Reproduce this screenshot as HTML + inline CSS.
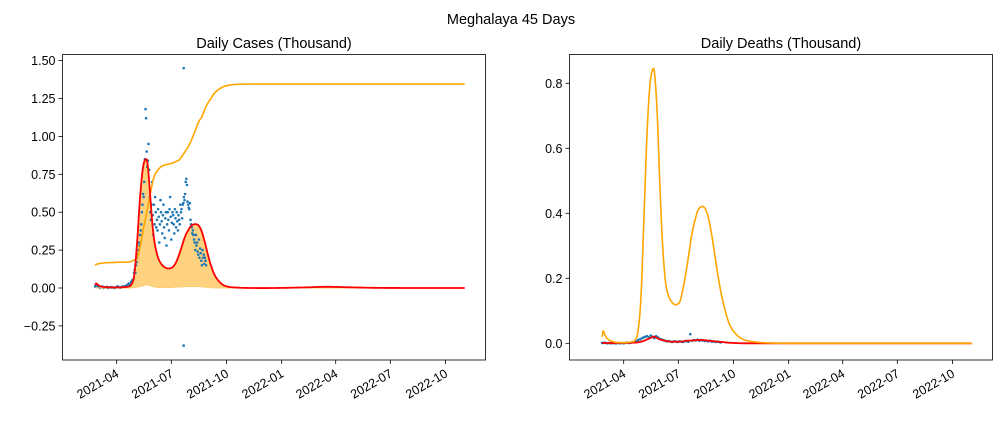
<!DOCTYPE html>
<html><head><meta charset="utf-8"><style>
body{margin:0;background:#fff;}
svg{display:block;font-family:"Liberation Sans","DejaVu Sans",sans-serif;}
</style></head><body>
<svg id="c" width="1001" height="421" viewBox="0 0 1001 421" xmlns="http://www.w3.org/2000/svg">
<rect width="1001" height="421" fill="#fff"/>
<text x="511" y="24" text-anchor="middle" font-size="14.5">Meghalaya 45 Days</text>
<text x="274" y="48" text-anchor="middle" font-size="14.5">Daily Cases (Thousand)</text>
<text x="781" y="48" text-anchor="middle" font-size="14.5">Daily Deaths (Thousand)</text>
</svg>
<script>
// day index 0 = 2021-02-24
const curveDays=[0,2,5,10,20,30,40,50,55,60,65,70,75,80,85,88,92,96,100,105,110,115,120,125,130,135,140,145,150,155,160,165,169,173,178,183,188,193,200,210,220,235,260,300,350,386,420,470,540,616];
const casesFit=[.02,.03,.02,.01,.005,.004,.004,.006,.01,.02,.08,.3,.6,.8,.85,.8,.6,.4,.28,.2,.16,.14,.13,.13,.14,.17,.22,.28,.34,.38,.41,.42,.42,.41,.37,.3,.22,.15,.08,.03,.01,.003,0,0,.004,.008,.005,.001,0,0];
const casesUpper=[.15,.155,.16,.163,.167,.168,.17,.17,.172,.175,.185,.2,.27,.38,.48,.54,.62,.7,.75,.78,.8,.81,.815,.82,.825,.835,.845,.87,.9,.93,.97,1.02,1.06,1.1,1.13,1.18,1.22,1.25,1.29,1.32,1.335,1.343,1.345,1.345,1.345,1.345,1.345,1.345,1.345,1.345];
const casesLower=[0,0,0,0,0,0,0,0,0,0,.003,.006,.01,.015,.02,.02,.015,.01,.006,.004,.003,.003,.003,.004,.005,.006,.007,.008,.009,.01,.01,.01,.01,.009,.008,.006,.004,.002,.001,0,0,0,0,0,0,0,0,0,0,0];
const deathsUpper=[.02,.038,.025,.012,.004,.002,.002,.005,.01,.04,.15,.4,.65,.8,.845,.82,.7,.5,.33,.2,.15,.13,.12,.12,.13,.17,.22,.28,.34,.38,.41,.42,.42,.41,.38,.33,.27,.21,.14,.07,.035,.012,.003,0,0,0,0,0,0,0];
const deathsFit=[.001,.001,.001,.001,.001,.001,.001,.002,.002,.003,.005,.008,.012,.016,.02,.02,.016,.012,.01,.008,.006,.005,.005,.005,.005,.006,.008,.008,.009,.009,.01,.01,.01,.009,.008,.007,.006,.005,.004,.002,.001,0,0,0,0,0,0,0,0,0];
const caseObs=[0.01,0.02,0.015,0.01,0.0,0.005,0.01,0.0,0.005,0.003,0.008,0.0,0.004,0.006,0.002,0.005,0.0,0.003,0.008,0.01,0.005,0.002,0.006,0.01,0.008,0.012,
.015,.02,.03,.025,.04,.05,.06,
.1,.12,.1,.15,.17,.2,.22,.25,.3,.28,.35,.38,.42,.5,.55,.62,
.6,.7,.85,1.18,1.12,.9,.8,.84,.95,.78,.6,.5,.45,.55,.7,
.48,.35,.55,.42,.6,.5,.4,.45,.38,.52,.47,.3,.42,.58,.5,.44,.36,.48,.55,.4,.33,.46,.5,.28,.42,.5,.45,.38,.52,.6,.47,.32,.43,.5,.48,.42,.36,.52,.46,.4,.5,.44,.38,.48,.45,.42,.55,.5,.52,.46,
.55,.56,.6,.58,.62,.7,.72,.68,.57,.55,.53,.52,.56,.45,.42,
.4,.36,.38,.35,.32,.3,.25,.35,.28,.3,.24,.22,.32,.2,.26,.23,.18,.15,.25,.2,.22,.16,.2,.18,.15];
const caseOutlierDays=[147.6,147.6];
const caseOutlierVals=[1.45,-0.38];
const deathObs=[.001,.002,.001,0,.001,0,.001,0,0,.001,0,.001,0,.001,.002,.001,.002,.003,.005,.006,.01,.012,.015,.018,.02,.022,.018,.024,.02,.016,.022,.018,.014,.012,.01,.008,.006,.007,.005,.004,.006,.005,.004,.006,.005,.004,.007,.006,.005,.028,.008,.01,.009,.011,.008,.01,.009,.007,.008,.006,.008,.005,.006,.004,.005,.004,.003];
const deathObsDays=[0,3,6,9,12,15,18,21,24,27,30,33,36,39,42,45,48,51,54,57,60,63,66,69,72,75,78,81,84,87,90,93,96,99,102,105,108,111,114,117,120,123,126,129,132,135,138,141,144,147,150,153,156,159,162,165,168,171,174,177,180,183,186,189,192,195,198];
const caseTicks=[-0.25,0,0.25,0.5,0.75,1.0,1.25,1.5];
const caseTickLabels=["−0.25","0.00","0.25","0.50","0.75","1.00","1.25","1.50"];
const deathTicks=[0,0.2,0.4,0.6,0.8];
const deathTickLabels=["0.0","0.2","0.4","0.6","0.8"];
const dateTickDays=[36,127,219,311,401,492,584];
const dateTickLabels=["2021-04","2021-07","2021-10","2022-01","2022-04","2022-07","2022-10"];

const caseObsDays=[];
for(let d=0;d<=50;d+=2)caseObsDays.push(d);
for(let d=52;d<=64;d+=2)caseObsDays.push(d);
for(let d=65;d<=185;d++)caseObsDays.push(d);

const svg=document.getElementById('c');
const NS='http://www.w3.org/2000/svg';
function mk(tag,attrs,parent){const e=document.createElementNS(NS,tag);for(const k in attrs)e.setAttribute(k,attrs[k]);(parent||svg).appendChild(e);return e;}

const LX=d=>116.7+(d-36)*0.6;
const LY=v=>288-v*151.6;
const RX=d=>623.7+(d-36)*0.6;
const RY=v=>343.3-v*325;

function drawAxes(x0,x1,y0,y1,X,Y,ticks,labels,name){
  const g=mk('g',{});
  
  
  ticks.forEach((t,i)=>{
    const y=Y(t);
    const l=mk('line',{x1:x0-4,x2:x0,y1:y,y2:y,stroke:'#000','stroke-width':0.8},g);
    
    
    const tx=mk('text',{x:x0-7,y:y+4.5,'text-anchor':'end','font-size':12.5},g);
    tx.textContent=labels[i];
    
    
  });
  dateTickDays.forEach((d,i)=>{
    const x=X(d);
    const l=mk('line',{x1:x,x2:x,y1:y1,y2:y1+4,stroke:'#000','stroke-width':0.8},g);
    
    
    const tx=mk('text',{x:x+3,y:y1+16,'text-anchor':'end','font-size':12.5,transform:`rotate(-30 ${x+3} ${y1+16})`},g);
    tx.textContent=dateTickLabels[i];
    
    
  });
  return g;
}
// monotone-ish smoothing: Catmull-Rom sampled into dense points
function smoothPts(X,Y,vals){
  const P=curveDays.map((d,i)=>[X(d),Y(vals[i])]);
  const out=[];
  for(let i=0;i<P.length-1;i++){
    const p0=P[Math.max(0,i-1)],p1=P[i],p2=P[i+1],p3=P[Math.min(P.length-1,i+2)];
    const n=8;
    for(let s=0;s<n;s++){
      const t=s/n,t2=t*t,t3=t2*t;
      const x=0.5*((2*p1[0])+(-p0[0]+p2[0])*t+(2*p0[0]-5*p1[0]+4*p2[0]-p3[0])*t2+(-p0[0]+3*p1[0]-3*p2[0]+p3[0])*t3);
      let y=0.5*((2*p1[1])+(-p0[1]+p2[1])*t+(2*p0[1]-5*p1[1]+4*p2[1]-p3[1])*t2+(-p0[1]+3*p1[1]-3*p2[1]+p3[1])*t3);
      const lo=Math.min(p1[1],p2[1]),hi=Math.max(p1[1],p2[1]);
      // limit overshoot
      const pad=(hi-lo)*0.15+1.5;
      y=Math.max(Math.min(y,hi+pad),lo-pad);
      out.push(x.toFixed(2)+','+y.toFixed(2));
    }
  }
  const L=P[P.length-1];out.push(L[0].toFixed(2)+','+L[1].toFixed(2));
  return out;
}
function line(X,Y,vals,color,w,name){
  const p=mk('polyline',{points:smoothPts(X,Y,vals).join(' '),fill:'none',stroke:color,'stroke-width':w,'stroke-linejoin':'round'});
  
  
}
function band(X,Y,lo,hi,name){
  const a=smoothPts(X,Y,hi),b=smoothPts(X,Y,lo).reverse();
  const p=mk('polygon',{points:a.concat(b).join(' '),fill:'#ffa500','fill-opacity':0.5,stroke:'none'});
  
  
}
function dots(X,Y,days,vals,name){
  days.forEach((d,i)=>{
    const c=mk('circle',{cx:X(d),cy:Y(vals[i]),r:1.3,fill:'#1f77b4'});
    
    
  });
}
drawAxes(62.5,485.5,54.5,360,LX,LY,caseTicks,caseTickLabels,'cases');
band(LX,LY,casesLower,casesFit,'cases-band');
dots(LX,LY,caseObsDays,caseObs,'case-point');
dots(LX,LY,caseOutlierDays,caseOutlierVals,'case-outlier');
line(LX,LY,casesUpper,'#ffa500',1.6,'cases-cumulative-line');
line(LX,LY,casesLower,'#ffcc70',1,'cases-lower-line');
line(LX,LY,casesFit,'#ff0000',1.8,'cases-fit-line');
let f=mk('rect',{x:62.5,y:54.5,width:423,height:305.5,fill:'none',stroke:'#000','stroke-width':0.8});


drawAxes(569.5,992.5,54.5,360,RX,RY,deathTicks,deathTickLabels,'deaths');
dots(RX,RY,deathObsDays,deathObs,'death-point');
line(RX,RY,deathsFit,'#ff0000',1.8,'deaths-fit-line');
line(RX,RY,deathsUpper,'#ffa500',1.6,'deaths-upper-line');
f=mk('rect',{x:569.5,y:54.5,width:423,height:305.5,fill:'none',stroke:'#000','stroke-width':0.8});


</script>
</body></html>
